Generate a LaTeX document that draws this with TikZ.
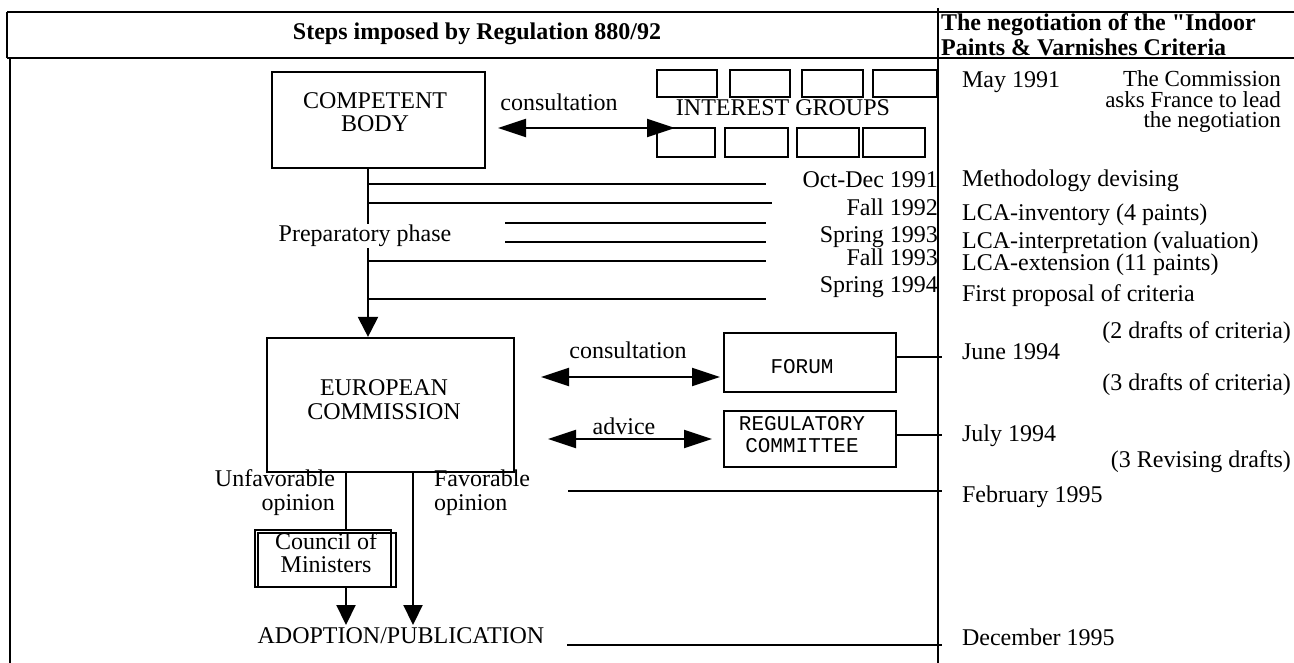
\documentclass[tikz,border=0pt]{standalone}
\usepackage{fontspec}
\setmainfont{Liberation Serif}
\setmonofont{Liberation Mono}
\newfontfamily\qfont{Liberation Serif}[Ligatures=ResetAll]
\usetikzlibrary{arrows.meta}
\begin{document}
\begin{tikzpicture}[x=1pt,y=-1pt,line width=2.2pt,
  box/.style={draw,line width=2.2pt,inner sep=0pt},
  txt/.style={font=\fontsize{24}{23}\selectfont,inner sep=0pt,align=center},
  txl/.style={font=\fontsize{24}{24}\selectfont,inner sep=0pt,anchor=west,align=left},
  txr/.style={font=\fontsize{24}{24}\selectfont,inner sep=0pt,anchor=east,align=right},
  hdr/.style={font=\bfseries\fontsize{24}{25}\selectfont,inner sep=0pt},
  mono/.style={font=\ttfamily\fontsize{21}{22}\selectfont,inner sep=0pt,align=center},
  dbl/.style={{Triangle[length=28pt,width=18pt]}-{Triangle[length=28pt,width=18pt]}},
  downa/.style={-{Triangle[length=20pt,width=20pt]}},
  downb/.style={-{Triangle[length=20pt,width=19pt]}}]
\useasboundingbox (0,0) rectangle (1294,663);
% frame
\draw (7,12) -- (1294,12);
\draw (7,58) -- (1294,58);
\draw (7,12) -- (7,58);
\draw (10,58) -- (10,663);
\draw (938,8) -- (938,663);
\node[hdr] (h1) at (477,34) {Steps imposed by Regulation 880/92};
\node[hdr,font=\qfont\bfseries\fontsize{24}{25}\selectfont,anchor=west,align=left] (h2) at (940,34.5) {The negotiation of the "Indoor\\Paints \& Varnishes Criteria};
% competent body
\node[box,minimum width=213,minimum height=96] (cb) at (378.5,120) {};
\node[txt] (cbt) at (375,112) {COMPETENT\\BODY};
% interest groups
\node[box,minimum width=60,minimum height=27] (ig1) at (687,83.5) {};
\node[box,minimum width=60,minimum height=27] (ig2) at (760,83.5) {};
\node[box,minimum width=61,minimum height=27] (ig3) at (832.5,83.5) {};
\node[box,minimum width=64,minimum height=27] (ig4) at (905,83.5) {};
\node[box,minimum width=58,minimum height=29] (ig5) at (686,142.5) {};
\node[box,minimum width=63,minimum height=29] (ig6) at (756.5,142.5) {};
\node[box,minimum width=62,minimum height=29] (ig7) at (828,142.5) {};
\node[box,minimum width=62,minimum height=29] (ig8) at (894,142.5) {};
\node[txt] (igt) at (783,108) {INTEREST GROUPS};
\node[txt] (cons1) at (559,102) {consultation};
\coordinate (ca1) at (498,128);
\coordinate (ca2) at (675,128);
\draw[dbl] (ca1) -- (ca2);
% preparatory phase
\coordinate (vx) at (368,0);
\node[txt] (prep) at (365,236) {Preparatory phase};
\node[box,minimum width=247,minimum height=134] (ec) at (390.5,405) {};
\node[txt,font=\fontsize{24}{24}\selectfont] (ect) at (384,400) {EUROPEAN\\COMMISSION};
\draw (vx |- cb.south) -- (vx |- prep.north);
\draw[downa] (vx |- prep.south) -- (vx |- ec.north);
% timeline lines
\coordinate (t1) at (766,184);
\coordinate (t2) at (772,203);
\coordinate (t3a) at (505,223);
\coordinate (t3b) at (766,223);
\coordinate (t3c) at (505,242);
\coordinate (t3d) at (766,242);
\coordinate (t4) at (766,261);
\coordinate (t5) at (766,299);
\draw (vx |- t1) -- (t1);
\draw (vx |- t2) -- (t2);
\draw (t3a) -- (t3b);
\draw (t3c) -- (t3d);
\draw (vx |- t4) -- (t4);
\draw (vx |- t5) -- (t5);
\node[txr] (d1) at (939,180) {Oct-Dec 1991};
\node[txr] (d2) at (939,207) {Fall 1992};
\node[txr] (d3) at (939,237) {Spring 1993};
\node[txr] (d4) at (939,257) {Fall 1993};
\node[txr] (d5) at (939,287) {Spring 1994};
% right column
\node[txl] (r0) at (961,82) {May 1991};
\node[txr,font=\fontsize{23}{20.5}\selectfont] (r0a) at (1282,102) {The Commission\\asks France to lead\\the negotiation};
\node[txl] (r1) at (961,181) {Methodology devising};
\node[txl] (r2) at (961,215) {LCA-inventory (4 paints)};
\node[txl] (r3) at (961,243) {LCA-interpretation (valuation)};
\node[txl] (r4) at (961,265) {LCA-extension (11 paints)};
\node[txl] (r5) at (961,296) {First proposal of criteria};
\node[txr] (r6a) at (1292,333) {(2 drafts of criteria)};
\node[txl] (r6) at (961,352) {June 1994};
\node[txr] (r6b) at (1292,385) {(3 drafts of criteria)};
\node[txl] (r7) at (961,436) {July 1994};
\node[txr] (r7a) at (1292,462) {(3 Revising drafts)};
\node[txl] (r8) at (961,497) {February 1995};
\node[txl] (r9) at (961,637) {December 1995};
% forum and committee
\node[box,minimum width=172,minimum height=59] (forum) at (810,362.5) {};
\node[mono] (forumt) at (802,367) {FORUM};
\node[box,minimum width=172,minimum height=56] (reg) at (810,439) {};
\node[mono] (regt) at (802,435) {REGULATORY\\COMMITTEE};
\node[txt] (cons2) at (628,350) {consultation};
\node[txt] (adv) at (624,426) {advice};
\coordinate (ca3) at (541,377);
\coordinate (ca4) at (720,377);
\draw[dbl] (ca3) -- (ca4);
\coordinate (ca5) at (548,439);
\coordinate (ca6) at (712,439);
\draw[dbl] (ca5) -- (ca6);
\coordinate (fe) at (942,357);
\coordinate (re) at (942,435);
\draw (forum.east |- fe) -- (fe);
\draw (reg.east |- re) -- (re);
\coordinate (fb1) at (568,491);
\coordinate (fb2) at (942,491);
\draw (fb1) -- (fb2);
% opinions
\node[txr] (unf) at (336,493) {Unfavorable\\opinion};
\node[txl] (fav) at (433,493) {Favorable\\opinion};
\node[box,minimum width=136,minimum height=57] (cm) at (323,558.5) {};
\draw (258,533) rectangle (396,587);
\node[txt] (cmt) at (326,553) {Council of\\Ministers};
\node[txt] (adopt) at (401,636) {ADOPTION/PUBLICATION};
\coordinate (ux) at (346,0);
\coordinate (fx) at (413,0);
\coordinate (tip) at (0,625);
\draw (ux |- ec.south) -- (ux |- cm.north);
\draw[downb] (ux |- cm.south) -- (ux |- tip);
\draw[downb] (fx |- ec.south) -- (fx |- tip);
\coordinate (de1) at (567,645);
\coordinate (de2) at (942,645);
\draw (de1) -- (de2);
\end{tikzpicture}
\end{document}
